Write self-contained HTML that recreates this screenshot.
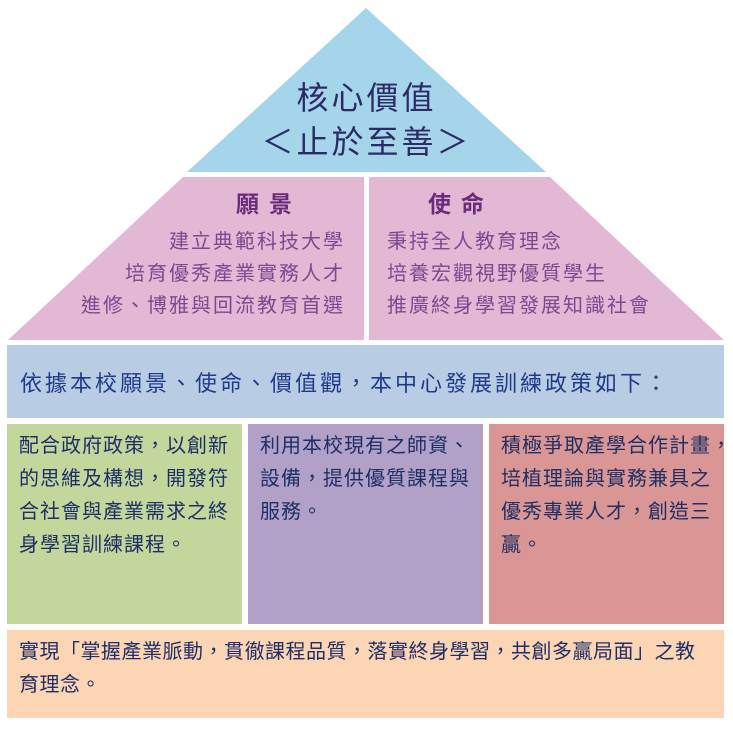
<!DOCTYPE html>
<html><head><meta charset="utf-8"><style>
body{margin:0;width:733px;height:729px;background:#fff;position:relative;overflow:hidden;font-family:"Liberation Sans","Noto Sans CJK TC",sans-serif}
.a{position:absolute;white-space:nowrap}
.box{position:absolute;font-size:20px;line-height:33px;color:#1f2f66;padding:6px 0 0 12px;box-sizing:border-box;letter-spacing:1px;white-space:nowrap}
</style></head><body>
<svg class="a" style="left:0;top:0" width="733" height="345">
<polygon points="366,8 546,172 187,172" fill="#a5d5ea"/>
<polygon points="183,177 364,177 364,340 8,340" fill="#e3b8d4"/>
<polygon points="369,177 550,177 724,340 369,340" fill="#e3b8d4"/>
</svg>
<div class="a" style="left:0;width:733px;top:76px;text-align:center;font-size:32px;line-height:44px;color:#2d2a66;letter-spacing:3px">核心價值<br>＜止於至善＞</div>
<div class="a" style="left:236px;top:185px;font-size:23px;color:#6a2b7a;letter-spacing:10px;font-weight:bold">願景</div>
<div class="a" style="left:428px;top:185px;font-size:23px;color:#6a2b7a;letter-spacing:10px;font-weight:bold">使命</div>
<div class="a" style="right:388px;top:226px;font-size:20px;line-height:32px;color:#7a4a8e;text-align:right;letter-spacing:2px">建立典範科技大學<br>培育優秀產業實務人才<br>進修、博雅與回流教育首選</div>
<div class="a" style="left:387px;top:226px;font-size:20px;line-height:32px;color:#7a4a8e;letter-spacing:2px">秉持全人教育理念<br>培養宏觀視野優質學生<br>推廣終身學習發展知識社會</div>
<div class="a" style="left:7px;top:345px;width:717px;height:73px;background:#b8cce4"></div>
<div class="a" style="left:20px;top:366px;font-size:22px;color:#1f3a8a;letter-spacing:3px">依據本校願景、使命、價值觀，本中心發展訓練政策如下：</div>
<div class="box" style="left:7px;top:424px;width:235px;height:200px;background:#c3d69b">配合政府政策，以創新<br>的思維及構想，開發符<br>合社會與產業需求之終<br>身學習訓練課程。</div>
<div class="box" style="left:248px;top:424px;width:235px;height:200px;background:#b1a0c7">利用本校現有之師資、<br>設備，提供優質課程與<br>服務。</div>
<div class="box" style="left:489px;top:424px;width:235px;height:200px;background:#d99694;overflow:hidden">積極爭取產學合作計畫，<br>培植理論與實務兼具之<br>優秀專業人才，創造三<br>贏。</div>
<div class="box" style="left:7px;top:630px;width:717px;height:88px;background:#fcd5b4;letter-spacing:0.5px">實現「掌握產業脈動，貫徹課程品質，落實終身學習，共創多贏局面」之教<br>育理念。</div>
</body></html>
